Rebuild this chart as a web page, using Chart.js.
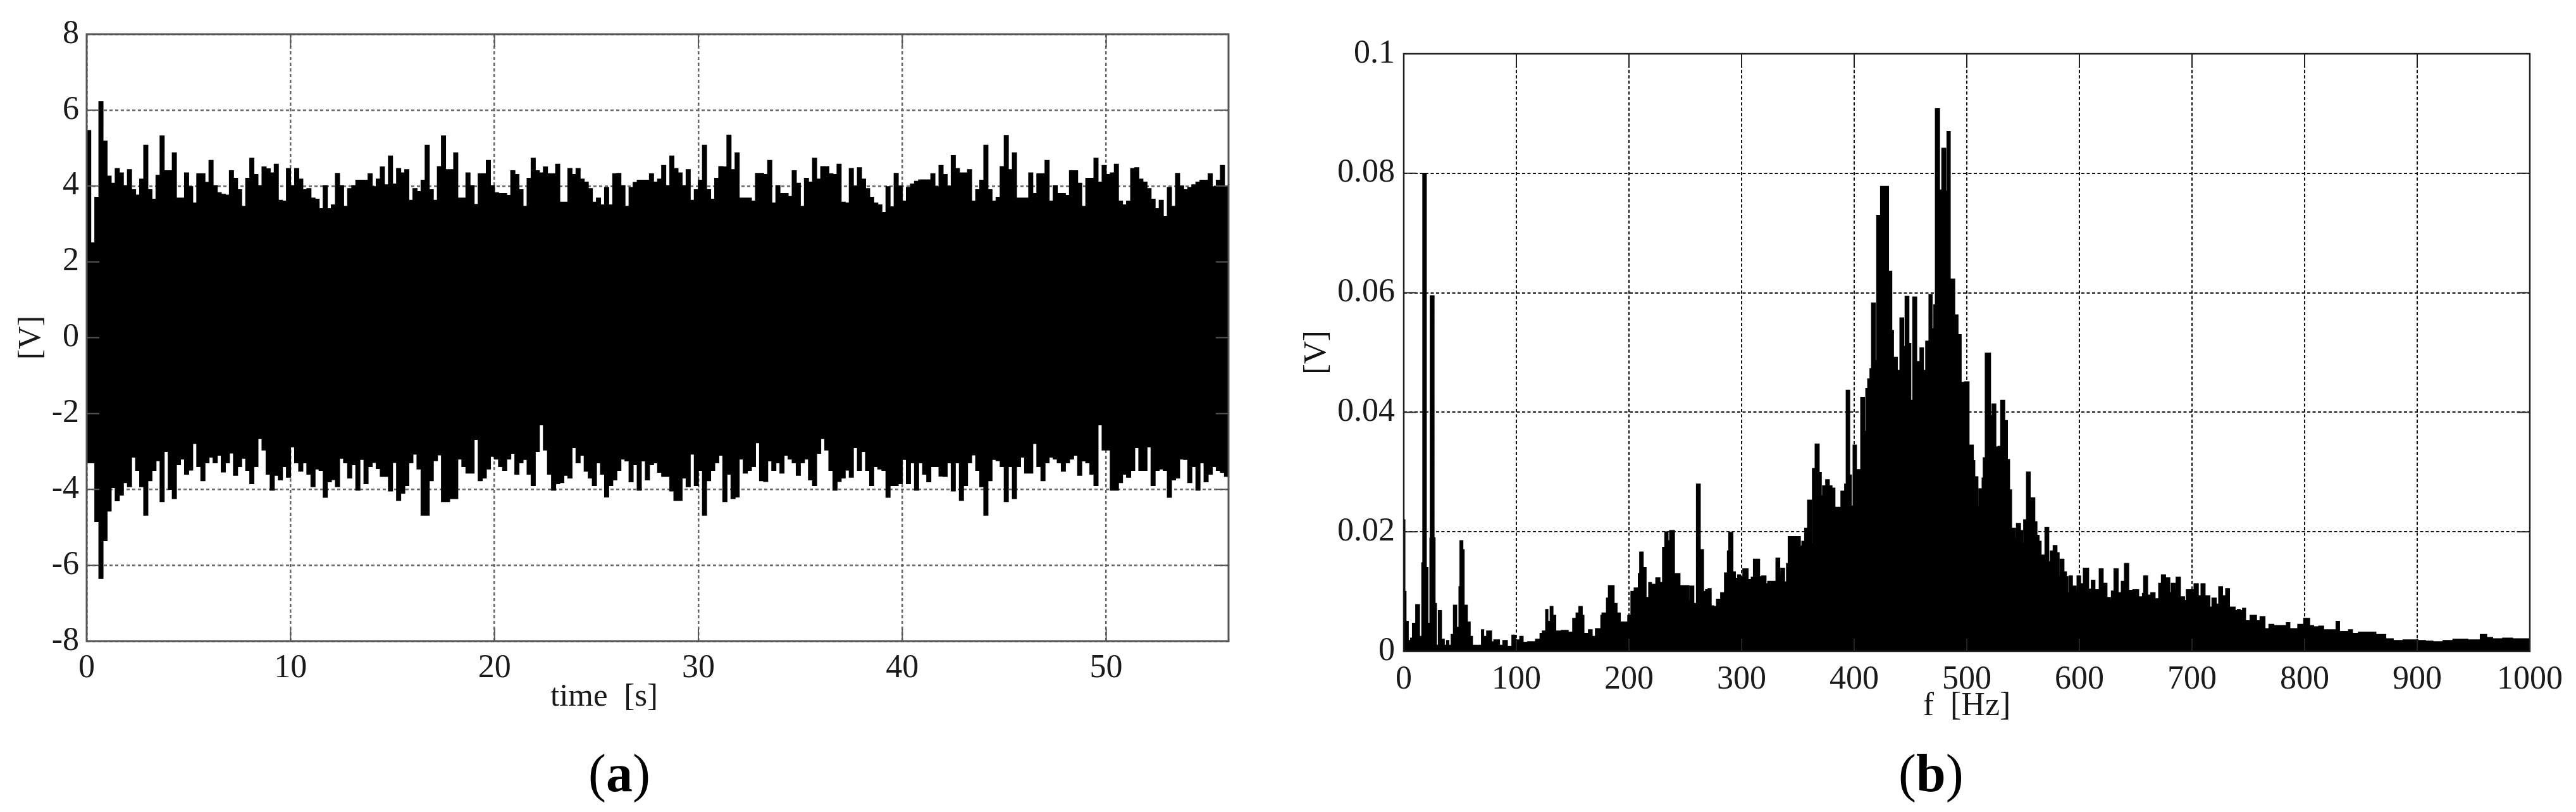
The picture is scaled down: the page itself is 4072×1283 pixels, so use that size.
<!DOCTYPE html>
<html>
<head>
<meta charset="utf-8">
<title>Signal and spectrum</title>
<script src="https://cdn.jsdelivr.net/npm/chart.js@4"></script>
<style>
  html, body { margin: 0; padding: 0; background: #fff; }
  body { position: relative; width: 4072px; height: 1283px; overflow: hidden; font-family: "Liberation Serif", serif; color: #1a1a1a; }
  canvas { position: absolute; top: 0; }
  #chartA { left: 0; }
  #chartB { left: 2040px; }
  .label { position: absolute; white-space: pre; line-height: 1; }
  .timeLabel { left: 870px; top: 1073px; font-size: 51px; }
  .caption { top: 1180px; font-size: 84px; color: #000; }
  .caption b { font-weight: bold; }
</style>
</head>
<body>
<canvas id="chartA" width="2040" height="1283"></canvas>
<canvas id="chartB" width="2032" height="1283"></canvas>
<div class="label timeLabel">time  [s]</div>
<div class="label caption" style="left:930px">(<b>a</b>)</div>
<div class="label caption" style="left:3001px">(<b>b</b>)</div>
<script>
// (a) time signal, peak envelope, one value per 0.2 s
const sampleStepA = 0.2;
const upperA = [
  5.46,2.5,3.7,6.22,5.18,4.26,4.07,4.46,4.34,4.01,
  4.43,3.9,3.76,4.18,5.07,3.9,3.65,4.28,5.32,4.4,
  4.4,4.87,3.68,3.68,4.34,3.98,3.55,4.32,4.32,4.09,
  4.67,4.01,3.82,3.78,3.76,4.4,4.2,3.9,3.46,4.2,
  4.73,4.3,4.01,4.5,4.45,4.34,4.57,3.62,3.6,4.46,
  4.01,4.46,4.18,3.9,3.93,3.68,3.65,3.4,4.01,3.4,
  3.5,4.33,4.01,3.46,3.93,4.01,4.15,4.15,4.15,4.32,
  3.98,4.18,4.5,4.03,4.79,4.05,4.46,4.34,4.43,3.62,
  3.93,3.85,4.15,5.07,3.9,3.62,4.51,5.32,4.43,4.43,
  4.87,3.68,3.68,4.34,4.01,3.51,4.32,4.32,4.67,4.01,
  3.82,3.8,3.8,3.75,4.4,4.3,3.9,3.46,4.2,4.73,
  4.4,4.34,4.5,4.32,4.32,4.57,3.57,3.57,4.46,4.3,
  4.46,4.18,4.1,3.93,3.57,3.68,3.5,3.96,3.5,4.32,
  4.33,4.01,3.46,3.96,4.09,4.15,4.15,4.15,4.32,4.1,
  4.18,4.54,4.01,4.79,4.46,4.34,4.01,4.43,3.62,3.9,
  4.15,5.07,3.9,3.65,4.2,4.51,4.5,5.34,4.43,4.87,
  3.68,3.68,3.68,3.6,4.33,4.33,4.3,4.67,3.55,4.01,
  3.8,3.8,3.72,4.4,4.07,3.46,4.2,4.1,4.73,4.18,
  4.51,4.51,4.32,4.3,4.57,3.57,3.55,4.46,4.0,4.48,
  4.18,3.93,3.7,3.55,3.5,3.3,3.98,3.45,4.33,4.0,
  3.6,3.96,4.05,4.12,4.16,4.16,4.16,4.32,3.98,4.54,
  4.3,4.0,4.8,4.46,4.34,4.34,4.43,3.6,3.9,4.15,
  5.07,3.9,3.6,3.7,4.51,5.33,4.43,4.87,3.68,3.68,
  3.68,4.34,3.8,4.32,4.32,4.67,3.6,4.01,3.8,3.8,
  3.75,4.4,4.4,4.07,3.46,4.2,4.2,4.73,4.1,4.54,
  4.3,4.34,4.57,3.6,3.5,3.6,4.46,4.48,4.18,4.1,
  3.93,3.65,3.4,3.62,3.2,3.96,3.46,4.33,4.0,3.9,
  3.96,4.03,4.1,4.15,4.15,4.32,3.98,4.15,4.54,4.0
];
const lowerA = [
  -3.3,-3.3,-4.85,-6.35,-5.35,-4.57,-3.95,-4.3,-4.15,-3.82,
  -3.93,-3.15,-3.5,-3.93,-4.68,-3.77,-3.5,-3.24,-4.32,-3.0,
  -4.0,-4.24,-3.35,-3.2,-3.6,-3.49,-2.79,-3.4,-3.77,-3.3,
  -3.15,-3.3,-3.1,-3.54,-3.3,-3.04,-3.63,-3.4,-3.18,-3.5,
  -3.85,-3.4,-2.66,-2.96,-3.6,-4.02,-3.63,-3.75,-3.4,-3.68,
  -2.88,-3.3,-3.52,-3.3,-3.6,-3.93,-3.46,-3.5,-4.21,-3.8,
  -3.74,-3.93,-3.18,-3.3,-3.7,-3.35,-4.02,-3.21,-3.85,-3.4,
  -3.29,-3.45,-3.66,-3.66,-4.04,-3.29,-4.29,-4.1,-3.9,-3.3,
  -3.07,-3.46,-4.68,-4.68,-3.77,-3.24,-3.09,-4.32,-4.32,-4.24,
  -4.24,-3.2,-3.4,-3.57,-3.57,-2.68,-3.77,-3.7,-3.46,-3.13,
  -3.2,-3.4,-3.5,-3.2,-3.05,-3.6,-3.3,-3.21,-3.6,-3.9,
  -3.0,-2.3,-2.96,-3.6,-4.02,-3.85,-3.82,-3.63,-3.7,-2.9,
  -3.3,-3.1,-3.52,-3.7,-3.9,-3.3,-3.6,-4.2,-3.9,-3.75,
  -3.5,-3.2,-3.25,-3.8,-3.35,-4.02,-3.25,-3.75,-3.35,-3.3,
  -3.55,-3.66,-3.66,-4.04,-4.29,-4.29,-3.7,-3.93,-3.07,-3.9,
  -3.5,-4.68,-3.77,-3.5,-3.3,-3.1,-4.32,-3.6,-4.24,-4.2,
  -3.2,-3.57,-3.5,-3.4,-2.77,-3.77,-3.79,-3.25,-3.5,-3.3,
  -3.57,-3.1,-3.2,-3.3,-3.63,-3.3,-3.2,-3.75,-3.9,-3.05,
  -2.66,-2.96,-3.5,-4.02,-3.79,-3.7,-3.49,-3.68,-2.9,-3.5,
  -3.0,-3.5,-3.9,-3.4,-3.46,-3.5,-4.21,-3.9,-3.9,-3.85,
  -3.21,-3.85,-3.3,-4.02,-3.3,-3.6,-3.8,-3.4,-3.4,-3.65,
  -3.66,-3.3,-4.04,-3.3,-4.29,-3.9,-3.3,-3.09,-3.5,-3.93,
  -4.68,-3.77,-3.21,-3.24,-3.4,-4.32,-3.4,-4.24,-3.4,-3.15,
  -3.57,-3.57,-2.79,-3.4,-3.77,-3.3,-3.15,-3.2,-3.3,-3.52,
  -3.3,-3.2,-3.1,-3.63,-3.25,-3.3,-3.6,-3.9,-2.3,-2.96,
  -2.96,-4.02,-4.02,-3.82,-3.6,-3.68,-3.5,-2.9,-3.5,-3.5,
  -2.88,-3.9,-3.5,-3.46,-3.5,-4.21,-3.75,-3.7,-3.2,-3.21,
  -3.82,-3.4,-4.02,-3.3,-3.8,-3.6,-3.4,-3.5,-3.55,-3.66
];
const xTicksA = [0, 10, 20, 30, 40, 50];
const yTicksA = [-8, -6, -4, -2, 0, 2, 4, 6, 8];

// (b) spectrum, each frequency starts a step of the read amplitude
const freqB = [
  0,1,2,4,6,7.7,10.6,14,16,16.9,
  20,21.5,23.2,23.5,26.9,27.8,29,30.7,33.5,36,
  38,40,42.1,44.1,47,49,49.9,52.5,53.6,56.4,
  59,61,63.3,69,71,73.6,78,80,85,88,
  92,96,99,103,106,110,117,121,123,126,
  128,130,132.5,135,140,146,150,153,155.5,158.5,
  160,164,167.3,170.2,175,176,180,181.7,186.8,189.4,
  192.3,198.9,201.7,204.6,208.3,209.5,212.6,215.2,217.5,220,
  223.8,227.5,229.8,231.8,234.7,236.1,240.4,242.7,245.3,253.3,
  254.2,257.6,259.9,263.3,266.2,268,270.2,273,275.4,277.7,
  281.4,284.8,287.4,288.6,292.3,294.5,296.4,299.2,301.1,305.8,
  308.6,310.5,316,318,321.7,323.2,330.5,333.9,334.8,338.2,
  339.9,341.4,352.2,353.5,356,358.6,362,362.9,365.3,368.9,
  370.8,371.9,374.7,377.9,380.3,382.9,388.2,391.5,392.9,396,
  397.5,399,402,405.8,409.2,410.3,412,414,415.4,418.8,
  420,423.4,430.5,433.4,434.9,438.3,440.6,444,445.2,448.6,
  450.3,452,455.5,458.4,461.5,463.5,466.4,469.2,470.7,472.1,
  475.8,477.8,481.3,482.4,485.3,489.3,492.2,495,497.9,502,
  505.8,507.1,509.9,510.8,513.6,514.6,516.4,521.1,522.4,525.8,
  527.1,527.7,530.1,533.7,536.1,538,539.8,543.2,544.1,547.7,
  549.6,550.5,553,556.3,560.4,562.3,564.2,566,569.4,572.8,
  574.1,576.7,580.1,582,582.9,586.3,588.5,589.8,590.8,593.8,
  597,597.9,601.1,603.5,608.2,610.6,613.8,617.6,621.1,624.5,
  627.5,628.4,630.7,634.4,637.2,640,643.8,647.5,652.6,656,
  657.1,660.6,663.4,667.2,670.4,672.8,676.5,680.3,681.6,685,
  685.9,689.7,693.4,694.9,699,701.8,705.6,708,711.6,715.9,
  717.7,721.5,723.7,727.1,729.9,733.3,738.3,740.2,743,744.9,
  747.6,751.6,757.3,760.4,764.8,768.3,772.7,783.8,786.9,793.9,
  799.2,804.5,808,812.5,816.9,827.9,831,839,842.5,847.8,
  863.3,872.1,878.7,887.5,900.8,907.4,914,922.9,931.7,944.9,
  956,961.7,967,975.8,984.7,1000
];
const ampB = [
  .022,.010,.005,.0018,.0022,.0047,.0078,.0025,.0148,.080,
  .014,.0047,.019,.0595,.019,.008,.001,.0068,.002,.001,
  .0018,.001,.0028,.0077,.004,.0108,.0185,.017,.0077,.0049,
  .0025,.001,.001,.0036,.0025,.0034,.0016,.0019,.001,.0018,
  .0008,.0027,.0019,.0025,.0015,.0016,.002,.003,.0034,.007,
  .005,.0075,.006,.0034,.0035,.0032,.0055,.0064,.0075,.006,
  .003,.0036,.0025,.0038,.006,.0064,.0089,.011,.008,.0064,
  .0049,.006,.010,.0106,.013,.0166,.014,.009,.0115,.0112,
  .0123,.0115,.0174,.020,.0185,.0202,.013,.013,.011,.0085,
  .0109,.008,.028,.017,.010,.0103,.0105,.0076,.0075,.0087,
  .0098,.0131,.0168,.0199,.0133,.0122,.0128,.0125,.0138,.012,
  .0124,.0154,.0125,.0126,.0113,.0117,.0156,.0128,.0139,.0116,
  .0147,.0192,.0176,.0184,.0206,.0253,.018,.0306,.0347,.0299,
  .026,.0277,.0287,.0277,.0273,.0241,.0268,.028,.0437,.0295,
  .0243,.0345,.0304,.0425,.0368,.044,.0456,.0473,.0583,.0487,
  .0729,.0778,.0636,.0537,.0492,.047,.0558,.051,.0594,.0515,
  .042,.0593,.0485,.0508,.047,.0519,.0597,.054,.058,.0908,
  .0772,.0842,.077,.087,.0623,.0563,.053,.045,.0451,.0345,
  .0319,.0292,.0242,.0272,.029,.0324,.0499,.0394,.0414,.0342,
  .0255,.0343,.042,.0386,.0321,.027,.0206,.019,.0214,.0202,
  .018,.022,.030,.0257,.0217,.0194,.0184,.0161,.0207,.015,
  .0168,.0177,.0165,.0125,.0154,.0133,.0125,.0098,.0126,.0109,
  .0102,.0126,.0113,.0139,.0104,.0119,.0103,.0138,.0114,.009,
  .0085,.0101,.0138,.0098,.0117,.0147,.0102,.0103,.0091,.0097,
  .0126,.0094,.0098,.0088,.0114,.0128,.0123,.0098,.0114,.0103,
  .0124,.0091,.0085,.0103,.0103,.0113,.0093,.0113,.0093,.0074,
  .0089,.0079,.0108,.0093,.0105,.0074,.0068,.007,.0068,.0072,
  .0051,.006,.0051,.0058,.0038,.0045,.0043,.0048,.0038,.0045,
  .0055,.0043,.0041,.0042,.0036,.005,.0033,.0036,.003,.0032,
  .0028,.0021,.0018,.0019,.0018,.0017,.0016,.0018,.002,.0019,
  .0028,.0023,.0021,.0022,.0021,.0021
];
const xTicksB = [0, 100, 200, 300, 400, 500, 600, 700, 800, 900, 1000];
const yTicksB = [0, 0.02, 0.04, 0.06, 0.08, 0.1];

if (upperA.length !== lowerA.length || freqB.length !== ampB.length) {
  throw new Error('array lengths differ ' + [upperA.length, lowerA.length, freqB.length, ampB.length]);
}

// stepped lines need one more point to reach the end of the last step
function envelope(values) {
  const pts = values.map((v, i) => ({ x: i * sampleStepA, y: v }));
  pts.push({ x: 56, y: values[values.length - 1] });
  return pts;
}

// frame and the short solid ticks, matlab style, on top of the data
function frameplugin(color, lineWidth) {
  return {
    id: 'frame',
    afterDatasetsDraw(chart) {
      const { ctx, chartArea: a, scales } = chart;
      const len = 20;
      ctx.save();
      ctx.strokeStyle = color;
      ctx.lineWidth = lineWidth;
      ctx.strokeRect(a.left, a.top, a.right - a.left, a.bottom - a.top);
      ctx.lineWidth = 2;
      ctx.beginPath();
      scales.x.ticks.forEach(t => {
        const x = scales.x.getPixelForValue(t.value);
        ctx.moveTo(x, a.top); ctx.lineTo(x, a.top + len);
        ctx.moveTo(x, a.bottom); ctx.lineTo(x, a.bottom - len);
      });
      scales.y.ticks.forEach(t => {
        const y = scales.y.getPixelForValue(t.value);
        ctx.moveTo(a.left, y); ctx.lineTo(a.left + len, y);
        ctx.moveTo(a.right, y); ctx.lineTo(a.right - len, y);
      });
      ctx.stroke();
      ctx.restore();
    }
  };
}

function axis(ticks, min, max, style, extra) {
  return Object.assign({
    type: 'linear',
    min: min,
    max: max,
    afterBuildTicks: s => { s.ticks = ticks.map(value => ({ value })); },
    grid: { color: style.grid, lineWidth: style.gridWidth, drawTicks: false },
    border: { display: false, dash: style.dash },
    ticks: {
      color: '#1a1a1a',
      font: { family: 'Liberation Serif', size: style.fontSize },
      padding: style.padding,
      maxRotation: 0,
      autoSkip: false,
      callback: v => String(v)
    }
  }, extra);
}

const styleA = { grid: '#666', gridWidth: 2.5, dash: [5, 4], fontSize: 52, padding: 12 };
const styleB = { grid: '#111', gridWidth: 2, dash: [5, 3.5], fontSize: 52, padding: 14 };
const titleFont = size => ({ family: 'Liberation Serif', size: size });

new Chart(document.getElementById('chartA'), {
  type: 'line',
  data: {
    datasets: [
      { data: envelope(upperA), stepped: true, fill: '+1', backgroundColor: '#000', borderColor: '#000', borderWidth: 1.5, pointRadius: 0 },
      { data: envelope(lowerA), stepped: true, fill: false, borderColor: '#000', borderWidth: 1.5, pointRadius: 0 }
    ]
  },
  options: {
    responsive: false,
    animation: false,
    devicePixelRatio: 1,
    layout: { padding: { left: 0, right: 98, top: 54, bottom: 170 } },
    plugins: { legend: { display: false }, tooltip: { enabled: false } },
    scales: {
      x: axis(xTicksA, 0, 56, styleA, { afterFit: s => { s.height = 100; } }),
      y: axis(yTicksA, -8, 8, styleA, {
        afterFit: s => { s.width = 137; },
        title: { display: true, text: '[V]', color: '#1a1a1a', font: titleFont(50), padding: { top: 20, bottom: 0 } }
      })
    }
  },
  plugins: [frameplugin('#555', 3)]
});

new Chart(document.getElementById('chartB'), {
  type: 'line',
  data: {
    datasets: [{
      data: freqB.map((f, i) => ({ x: f, y: ampB[i] })),
      stepped: true,
      fill: 'origin',
      backgroundColor: '#000',
      borderColor: '#000',
      borderWidth: 1.5,
      pointRadius: 0
    }]
  },
  options: {
    responsive: false,
    animation: false,
    devicePixelRatio: 1,
    layout: { padding: { left: 0, right: 73, top: 85, bottom: 124 } },
    plugins: { legend: { display: false }, tooltip: { enabled: false } },
    scales: {
      x: axis(xTicksB, 0, 1000, styleB, {
        afterFit: s => { s.height = 130; },
        title: { display: true, text: 'f  [Hz]', color: '#1a1a1a', font: titleFont(52), padding: { top: 0, bottom: 11 } }
      }),
      y: axis(yTicksB, 0, 0.1, styleB, {
        afterFit: s => { s.width = 179; },
        title: { display: true, text: '[V]', color: '#111', font: titleFont(50), padding: { top: 12, bottom: 0 } }
      })
    }
  },
  plugins: [frameplugin('#222', 2.5)]
});
</script>
</body>
</html>
